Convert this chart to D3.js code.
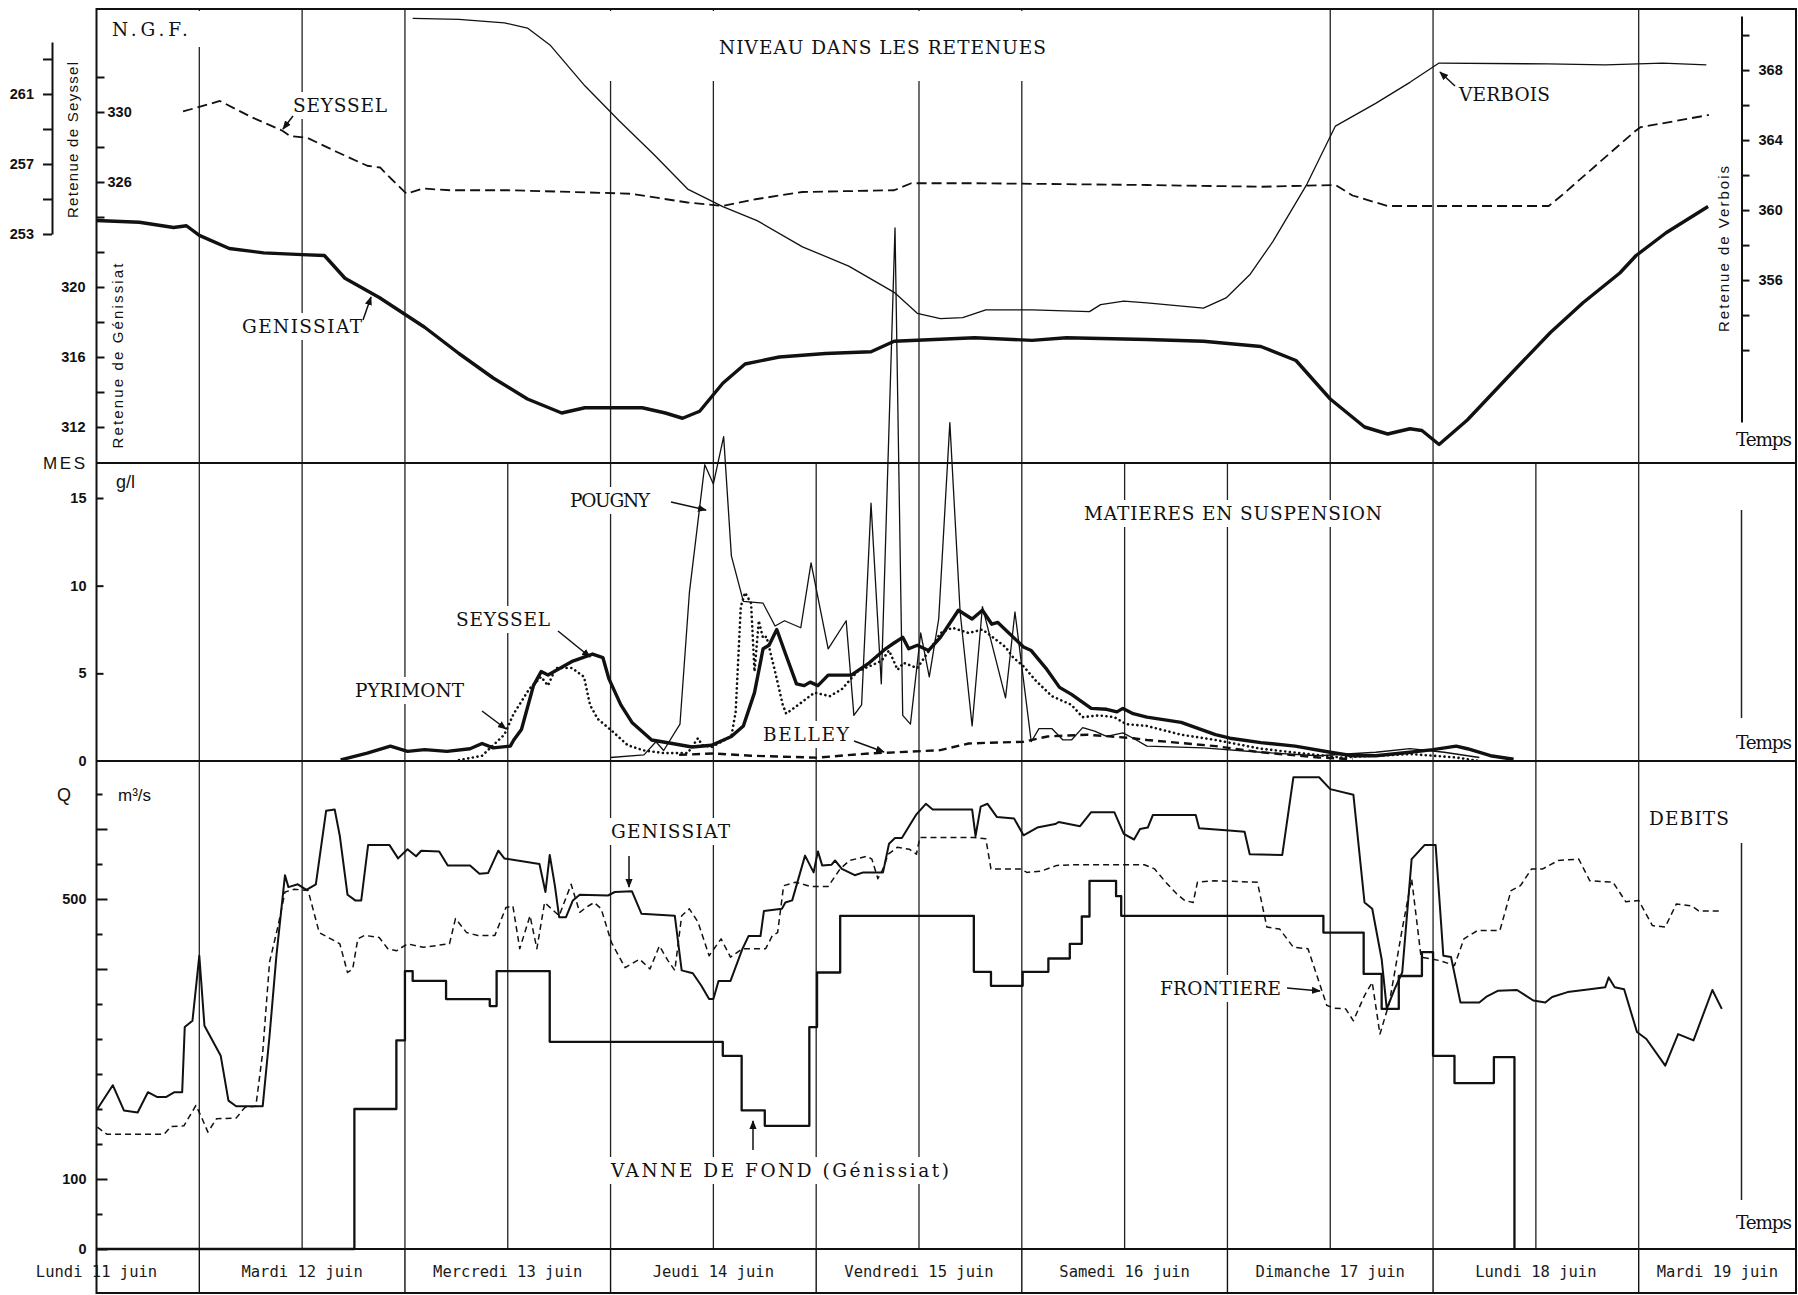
<!DOCTYPE html>
<html><head><meta charset="utf-8">
<script src="https://cdn.jsdelivr.net/npm/d3@7"></script>
<style>body{margin:0;background:#fff}svg{display:block}</style>
</head><body>
<svg id="c" width="1798" height="1295"></svg>
<script>
// ---------- DATA (hours counted from Monday 11 June 00:00) ----------
const dayLabels = ["Lundi 11 juin","Mardi 12 juin","Mercredi 13 juin","Jeudi 14 juin","Vendredi 15 juin","Samedi 16 juin","Dimanche 17 juin","Lundi 18 juin","Mardi 19 juin"];
const panel1Grid = [24,36,48,72,84,108,120,156,168,192];
const panel2Grid = [24,36,48,60,72,84,96,108,120,132,144,156,168,180,192];
const panel3Grid = [24,36,48,60,72,84,96,108,120,132,144,156,168,180,192];

// Levels (m NGF)
const genissiatLevel = [[12,323.8],[17,323.7],[21,323.4],[22.5,323.5],[24,322.95],[27.5,322.2],[31.5,321.95],[36,321.85],[38.6,321.8],[41,320.5],[45,319.4],[50.3,317.7],[54.3,316.2],[58.3,314.8],[62.3,313.6],[66.3,312.8],[69,313.1],[75.7,313.1],[78.4,312.8],[80.4,312.5],[82.4,312.9],[85.1,314.5],[87.7,315.6],[91.7,316.0],[97.1,316.2],[102.4,316.3],[105.1,316.9],[114.5,317.1],[121.2,316.95],[125.2,317.1],[134.6,317.0],[141.2,316.9],[147.9,316.6],[152,315.8],[156,313.6],[160,312.0],[162.7,311.6],[165.3,311.9],[166.7,311.8],[168.7,311.0],[172,312.4],[174.7,313.8],[177.4,315.2],[181.7,317.4],[185.5,319.1],[189.8,320.8],[191.7,321.8],[195.2,323.1],[200.1,324.6]];
const seysselLevel = [[22.1,260.0],[26.4,260.6],[30,259.7],[33.7,258.9],[34.6,258.6],[36.6,258.5],[40,257.7],[43.6,256.9],[45.1,256.8],[46.3,256.2],[48.2,255.3],[50.1,255.6],[53.3,255.5],[60,255.5],[67.7,255.4],[74.3,255.3],[81,254.8],[85.1,254.6],[89.1,255.0],[94.4,255.4],[105.1,255.5],[107.1,255.9],[114.5,255.9],[134.6,255.8],[147.9,255.7],[156.6,255.8],[158.6,255.2],[162.7,254.6],[181.5,254.6],[183,255.2],[191.4,258.8],[192.2,259.1],[200.2,259.8]];
const verboisLevel = [[48.9,370.95],[54.3,370.9],[59.6,370.7],[62.3,370.4],[65,369.4],[69,367.1],[73,365.1],[77,363.2],[81,361.2],[85.1,360.2],[89.1,359.4],[94.4,357.9],[99.8,356.8],[105.1,355.3],[107.8,354.1],[110.5,353.8],[113.1,353.85],[115.8,354.3],[121.2,354.3],[127.9,354.2],[129.2,354.6],[131.9,354.8],[134.6,354.7],[141.2,354.4],[143.9,355.0],[146.6,356.3],[149.3,358.2],[153.3,361.5],[156.6,364.8],[161.3,366.1],[165.3,367.3],[168.7,368.4],[181.4,368.35],[188.1,368.3],[194.8,368.4],[199.9,368.3]];

// Suspended matter (g/l)
const seysselMES = [[40.5,0.06],[43.6,0.45],[46.3,0.85],[48.3,0.55],[50.3,0.65],[52.9,0.55],[55.6,0.7],[57,1.0],[58.3,0.75],[60.3,0.85],[60.7,1.2],[61.6,1.8],[63,4.3],[63.9,5.1],[64.7,4.9],[67.6,5.7],[69.9,6.1],[71.1,5.9],[71.8,4.7],[73.2,3.2],[74.5,2.2],[76.8,1.2],[79.2,1.0],[81.5,0.8],[83.8,0.9],[86.1,1.4],[87.5,2.0],[88.8,3.9],[89.8,6.4],[90.5,6.6],[91.4,7.5],[92.5,6.0],[93.7,4.4],[94.6,4.3],[95.3,4.5],[96.2,4.3],[97.4,4.9],[100.1,4.9],[102.2,5.6],[104.1,6.4],[105,6.7],[106.1,7.05],[106.8,6.4],[107.8,6.6],[109.1,6.3],[110.5,7.05],[112.6,8.6],[114.2,8.1],[115.4,8.6],[116.5,7.8],[117.2,7.9],[120.2,6.5],[121.1,6.3],[122.8,5.3],[124.4,4.2],[125.8,3.8],[128.1,3.0],[129.9,2.95],[131.1,2.8],[131.8,3.0],[133,2.7],[134.6,2.5],[138.6,2.2],[142.6,1.5],[144.3,1.3],[147.9,1.05],[151.9,0.85],[156,0.5],[158.6,0.3],[161.3,0.3],[165.3,0.5],[168,0.65],[170.7,0.85],[172,0.7],[174.7,0.3],[177.4,0.1]];
const pyrimontMES = [[54.3,0.05],[57,0.3],[59.6,1.5],[60.7,2.7],[62.5,4.1],[63.9,4.8],[64.7,4.3],[65.6,5.3],[67.5,5.3],[68.9,4.8],[69.6,3.2],[70.5,2.4],[72.2,1.7],[74,0.9],[75.9,0.6],[78.2,0.45],[81,0.45],[82.2,1.3],[82.7,0.9],[83.8,0.8],[86.1,1.4],[86.6,2.8],[87.2,8.8],[87.7,9.6],[88.4,9.0],[88.8,5.1],[89.3,8.0],[89.8,7.0],[90.2,7.1],[91.2,5.1],[92.1,3.2],[92.5,2.7],[93.9,3.2],[95.8,3.9],[97.6,3.7],[99,4.1],[100.8,5.1],[103.6,5.7],[104.5,6.3],[105.5,5.2],[106.2,5.6],[107.8,5.3],[109.6,6.6],[110.5,7.3],[111.9,7.6],[113.8,7.3],[115.4,7.5],[116.5,7.1],[118.1,6.5],[119,5.9],[120.2,5.4],[121.6,4.6],[123.5,3.7],[125.8,3.2],[127.1,2.5],[129,2.6],[130.8,2.5],[132.2,2.1],[134.6,2.0],[138.6,1.5],[142.6,1.2],[147.9,0.7],[153.3,0.4],[157.3,0.2],[161.3,0.3],[165.3,0.4],[168,0.3],[170.7,0.2],[173.4,0.0]];
const pougnyMES = [[72,0.2],[75.9,0.35],[77.3,1.1],[78.2,0.6],[80.1,2.1],[81.2,9.6],[83,16.9],[84,15.8],[85.2,18.5],[86.1,11.7],[87.5,9.1],[89.8,9.0],[91.2,7.7],[92.3,8.0],[94.2,7.6],[95.4,11.3],[97.4,6.4],[99.5,8.0],[100.4,2.6],[101.3,3.2],[102.4,14.7],[103.6,4.4],[105.2,30.4],[106.1,2.6],[107,2.1],[108.2,7.3],[109.2,4.8],[110.3,8.1],[111.6,19.3],[112.8,8.5],[114.2,2.0],[115.4,8.8],[118.1,3.6],[119.2,8.5],[121.1,1.1],[122,1.85],[123.5,1.85],[124.8,1.2],[125.8,1.2],[127.1,1.9],[128.5,1.7],[129.9,1.4],[131.8,1.6],[133,1.3],[134.6,0.85],[141.2,0.75],[147.9,0.5],[154.6,0.3],[161.3,0.5],[165.3,0.7],[169.3,0.5],[173.4,0.2]];
const belleyMES = [[80,0.35],[84,0.43],[88.4,0.3],[96,0.19],[102.2,0.43],[106.8,0.53],[110.5,0.62],[113.8,1.0],[116.2,1.04],[120.2,1.1],[123,1.4],[127.6,1.5],[133,1.3],[134.6,1.2],[142.6,0.85],[147.9,0.5],[154.6,0.2],[158.6,0.1]];

// Discharges (m3/s)
const genissiatQ = [[12.1,200],[13.9,234],[15.2,198],[16.8,195],[18,224],[19.1,217],[20.1,217],[21.1,224],[22,224],[22.3,317],[23.2,326],[24,419],[24.6,319],[26.5,276],[27.4,212],[28.3,204],[31.4,204],[32.2,305],[33,419],[34,534],[34.4,517],[35.5,521],[36.5,513],[37.6,521],[38.8,626],[39.8,628],[40.4,590],[41.3,506],[42.2,498],[42.9,498],[43.7,577],[46.2,577],[47.2,558],[48.3,571],[49.3,561],[49.9,569],[52,568],[53,548],[55.6,548],[56.7,536],[57.7,537],[58.9,569],[59.6,558],[63.7,550],[64.4,510],[64.9,563],[65.5,519],[66,474],[66.8,474],[67.6,498],[68.4,506],[71.7,505],[72.5,510],[74.5,511],[75.6,479],[79.5,476],[80.3,398],[81.6,394],[82.6,376],[83.5,357],[84,357],[84.6,383],[86,383],[87.4,429],[88.1,447],[89.5,447],[89.9,483],[92,486],[92.4,495],[93.2,498],[94.7,562],[95.7,538],[96.2,568],[96.7,548],[97.8,549],[98.2,555],[99,543],[100.5,534],[101.5,538],[103.8,538],[104.5,579],[105.2,587],[106,587],[107.7,621],[108.8,636],[109.6,628],[114.2,628],[114.6,590],[115.2,632],[116,636],[117.1,617],[119.1,615],[120.2,591],[121.8,602],[123.9,607],[124.3,610],[126.8,604],[128.1,624],[130.8,624],[131.9,593],[133.1,585],[133.8,600],[134.7,602],[135.3,620],[140.3,620],[140.7,601],[144.2,598],[146,596],[146.6,564],[150.4,563],[151.7,674],[154.7,674],[156,657],[158.7,649],[160,495],[160.9,486],[162,414],[162.6,343],[163.5,371],[164.4,395],[165.5,557],[167,577],[168.3,577],[169.2,419],[170.1,417],[171.2,352],[173.4,352],[174.3,361],[175.6,369],[177.8,370],[179.7,355],[181.1,352],[181.9,360],[183.7,367],[186.3,371],[188.1,374],[188.5,388],[189.2,374],[190.3,371],[191.8,310],[192.9,300],[195.1,262],[196.6,307],[198.4,298],[200.6,370],[201.7,343]];
const frontiereQ = [[12.1,174],[13.2,164],[16.1,164],[19.9,164],[20.7,175],[22.2,176],[23.6,205],[24.2,190],[25,167],[26,186],[28.3,187],[29.3,202],[30.6,204],[31.4,281],[32.2,410],[33.2,462],[34,510],[35.1,514],[36.7,512],[38,452],[40.4,436],[41.3,395],[41.9,400],[42.5,443],[43.3,448],[45,445],[46,429],[47,426],[48.3,436],[50.1,431],[53.2,436],[53.9,472],[55.2,452],[56.5,448],[58.5,448],[59.8,488],[60.6,490],[61.4,429],[62.6,476],[63.4,429],[64.3,495],[66,476],[67.4,521],[68.4,481],[69.4,490],[70.1,495],[70.9,486],[72.1,438],[73.7,402],[75.4,414],[76.6,400],[77.7,433],[78.7,412],[79.5,398],[80.3,476],[81.2,486],[82.2,467],[83.5,419],[84.9,443],[86,417],[87.4,429],[90.1,429],[90.9,448],[91.5,452],[92.2,519],[93.6,524],[95.3,518],[97.4,518],[98.8,543],[99.9,555],[101.9,561],[102.5,557],[103.2,529],[103.8,543],[104.4,564],[105.5,574],[106.9,571],[107.7,564],[108.1,588],[114.4,588],[115.8,586],[116.4,543],[119.8,543],[120.6,538],[122.3,540],[124.1,548],[126,549],[134.3,549],[135.5,543],[136.8,524],[138.1,507],[139,498],[140,495],[140.5,524],[142.5,526],[147.5,524],[148.6,460],[150.1,457],[151.7,431],[153.4,429],[155.6,348],[156.5,344],[157.8,343],[158.7,326],[160,362],[160.9,381],[161.8,307],[162.9,352],[164.4,457],[165.5,529],[166.6,417],[168.8,412],[170.5,405],[171.6,443],[173.2,455],[175.8,455],[177.1,512],[178.2,519],[179.5,543],[180.8,543],[182.6,555],[185,557],[186.3,526],[189,524],[190.5,496],[192,498],[193.6,462],[195.1,460],[196.4,493],[198.2,490],[199,483],[201.7,483]];
const vanneQ = [[12,0],[42.1,200],[47,298],[48,397],[48.9,383],[52.8,357],[57.9,347],[58.7,397],[64.9,296],[85.1,276],[87.3,198],[90,176],[95.2,317],[96.1,395],[98.8,476],[114.4,396],[116.4,376],[120.1,396],[123.1,415],[125.6,436],[127,475],[127.9,526],[131,504],[131.6,476],[155.2,452],[159.9,393],[162,343],[164,390],[166.7,424],[168,276],[170.5,237],[175.1,274],[177.5,0]];

// Tick values
const genTicks = [312,314,316,318,320,322,324,326,328,330,332];
const genLabelsIn = [330,326], genLabelsOut = [320,316,312];
const seyTicks = [253,255,257,259,261,263], seyLabels = [253,257,261];
const verTicks = [352,354,356,358,360,362,364,366,368,370], verLabels = [356,360,364,368];
const mesTicks = [0,5,10,15];
const qTicksLong = [0,100,400,500,600], qTicksShort = [50,150,200,250,300,350,450,550,650], qLabels = [0,100,500];

// ---------- LAYOUT ----------
const L=96.5, R=1796, T=9, B1=463, B2=761, B3=1249, B4=1293;
const INK="#111";
const svg=d3.select("#c");
const x=d3.scaleLinear().domain([12,204]).range([L,1741.5]);
const genY=d3.scaleLinear().domain([312,330]).range([427,112]);
const seyY=d3.scaleLinear().domain([253,263.97]).range([234,42]);
const verY=d3.scaleLinear().domain([347.89,371.09]).range([422,16]);
const mesY=d3.scaleLinear().domain([0,15]).range([B2,498]);
const qY=d3.scaleLinear().domain([0,500]).range([B3,899]);

svg.append("defs").append("marker").attr("id","ah").attr("viewBox","0 0 10 10")
  .attr("refX",9).attr("refY",5).attr("markerWidth",6).attr("markerHeight",6).attr("orient","auto")
  .append("path").attr("d","M0,1 L10,5 L0,9 z").attr("fill",INK);

const gGrid=svg.append("g"), gBg=svg.append("g"), gCurve=svg.append("g"), gText=svg.append("g"), gAxis=svg.append("g");

function grid(hours,y0,y1){
  gGrid.selectAll(null).data(hours).join("line")
    .attr("x1",d=>x(d)).attr("x2",d=>x(d)).attr("y1",y0).attr("y2",y1)
    .attr("stroke","#222").attr("stroke-width",1.3);
}
grid(panel1Grid,T,B1); grid(panel2Grid,B1,B2); grid(panel3Grid,B2,B3);
[[510,718],[843,1200]].forEach(s=>gGrid.append("line").attr("x1",x(204)).attr("x2",x(204)).attr("y1",s[0]).attr("y2",s[1]).attr("stroke","#222").attr("stroke-width",1.5));
gBg.append("rect").attr("x",x(66)).attr("y",T+2).attr("width",x(126)-x(66)).attr("height",70).attr("fill","#fff");
gBg.append("rect").attr("x",x(24)-3).attr("y",T+2).attr("width",6).attr("height",36).attr("fill","#fff");

// frame
const frame=svg.append("g").attr("stroke",INK).attr("stroke-width",2).attr("fill","none");
frame.append("path").attr("d",`M${L},${T}H${R}V${B4}H${L}Z`);
[B1,B2,B3].forEach(y=>frame.append("line").attr("x1",L).attr("x2",R).attr("y1",y).attr("y2",y));
d3.range(24,193,24).forEach(h=>frame.append("line").attr("x1",x(h)).attr("x2",x(h)).attr("y1",B3).attr("y2",B4).attr("stroke-width",1.4));
dayLabels.forEach((t,i)=>{
  const a=Math.max(x(24*i),L-200), b=Math.min(x(24*i+24),R);
  gText.append("text").attr("x",(a+b)/2).attr("y",1277).attr("text-anchor","middle")
    .attr("font-family","DejaVu Sans Mono").attr("font-size",15.5).attr("fill","#1a1a1a").text(t);
});

function tw(t,x0,base,len,size){
  const el=gText.append("text").attr("x",x0).attr("y",base).attr("textLength",len).attr("lengthAdjust","spacing")
    .attr("font-family","DejaVu Serif").attr("font-size",size||18.5).attr("fill",INK).text(t);
  const bb=el.node().getBBox();
  gBg.append("rect").attr("x",bb.x-4).attr("y",bb.y-3).attr("width",bb.width+8).attr("height",bb.height+6).attr("fill","#fff");
}
function arrow(x1,y1,x2,y2){
  gText.append("line").attr("x1",x1).attr("y1",y1).attr("x2",x2).attr("y2",y2)
    .attr("stroke",INK).attr("stroke-width",1.5).attr("marker-end","url(#ah)");
}
tw("N.G.F.",112,36,76);
tw("NIVEAU DANS LES RETENUES",719,54,327);
tw("SEYSSEL",293,112,94); arrow(293,116,283,129);
tw("GENISSIAT",242,333,120); arrow(363,320,371,297);
tw("VERBOIS",1459,101,91); arrow(1455,86,1440,72);
tw("POUGNY",570,507,80); arrow(671,502,706,510);
tw("MATIERES EN SUSPENSION",1084,520,298);
tw("SEYSSEL",456,626,94); arrow(558,631,590,657);
tw("PYRIMONT",355,697,109); arrow(482,711,506,729);
tw("BELLEY",763,741,86); arrow(854,741,884,752);
tw("GENISSIAT",611,838,119); arrow(629,856,629,887);
tw("VANNE DE FOND (Génissiat)",611,1177,338); arrow(753,1150,753,1121);
tw("FRONTIERE",1160,995,121); arrow(1287,988,1320,991);
tw("DEBITS",1649,825,80);
[446,749,1229].forEach(b=>tw("Temps",1736,b,56,18.5));

function curve(data,sc,w,dash,step){
  const ln=d3.line().x(d=>x(d[0])).y(d=>sc(d[1]));
  if(step) ln.curve(d3.curveStepAfter);
  const p=gCurve.append("path").datum(data).attr("d",ln).attr("fill","none").attr("stroke",INK)
    .attr("stroke-width",w).attr("stroke-linejoin","round");
  if(dash){p.attr("stroke-dasharray",dash);}
  return p;
}
curve(genissiatLevel,genY,3.4);
curve(seysselLevel,seyY,1.8,"10,5");
curve(verboisLevel,verY,1.3);
curve(belleyMES,mesY,2.4,"8,5");
curve(pougnyMES,mesY,1.3);
curve(pyrimontMES,mesY,2.6,"0.1,4.6").attr("stroke-linecap","round");
curve(seysselMES,mesY,3.4);
curve(vanneQ,qY,2.3,null,true);
curve(frontiereQ,qY,1.5,"6,4");
curve(genissiatQ,qY,2.0);

function styleAxis(g,size,weight){
  g.attr("font-family","Liberation Sans").attr("font-size",size||14.5).attr("font-weight",weight||"bold");
  g.selectAll("text").attr("fill",INK);
  g.selectAll("line").attr("stroke",INK).attr("stroke-width",2);
  g.selectAll(".domain").attr("stroke",INK).attr("stroke-width",2);
}
const aS=gAxis.append("g").attr("transform","translate(52,0)")
  .call(d3.axisLeft(seyY).tickValues(seyTicks).tickSize(9).tickSizeOuter(0).tickPadding(9)
    .tickFormat(d=>seyLabels.includes(d)?d:""));
styleAxis(aS);
const aG=gAxis.append("g").attr("transform",`translate(${L},0)`)
  .call(d3.axisRight(genY).tickValues(genTicks).tickSize(8).tickPadding(3)
    .tickFormat(d=>genLabelsIn.includes(d)?d:""));
aG.select(".domain").remove(); styleAxis(aG);
const aG2=gAxis.append("g").attr("transform",`translate(${L},0)`)
  .call(d3.axisLeft(genY).tickValues(genLabelsOut).tickSize(0).tickPadding(11));
aG2.select(".domain").remove(); styleAxis(aG2);
const aV=gAxis.append("g").attr("transform",`translate(${x(204)},0)`)
  .call(d3.axisRight(verY).tickValues(verTicks).tickSize(8).tickSizeOuter(0).tickPadding(9)
    .tickFormat(d=>verLabels.includes(d)?d:""));
styleAxis(aV);
const aM=gAxis.append("g").attr("transform",`translate(${L},0)`)
  .call(d3.axisRight(mesY).tickValues(mesTicks.slice(1)).tickSize(7).tickFormat(""));
aM.select(".domain").remove(); styleAxis(aM);
const aM2=gAxis.append("g").attr("transform",`translate(${L},0)`)
  .call(d3.axisLeft(mesY).tickValues(mesTicks).tickSize(0).tickPadding(10));
aM2.select(".domain").remove(); styleAxis(aM2);
const aQ=gAxis.append("g").attr("transform",`translate(${L},0)`)
  .call(d3.axisRight(qY).tickValues(qTicksLong).tickSize(11).tickFormat(""));
aQ.select(".domain").remove(); styleAxis(aQ);
const aQ2=gAxis.append("g").attr("transform",`translate(${L},0)`)
  .call(d3.axisRight(qY).tickValues(qTicksShort).tickSize(6).tickFormat(""));
aQ2.select(".domain").remove(); styleAxis(aQ2);
const aQ3=gAxis.append("g").attr("transform",`translate(${L},0)`)
  .call(d3.axisLeft(qY).tickValues(qLabels).tickSize(0).tickPadding(10));
aQ3.select(".domain").remove(); styleAxis(aQ3);

function sans(t,x0,y0,size,len,rot,anchor){
  const el=gText.append("text").attr("font-family","Liberation Sans").attr("font-size",size).attr("fill",INK)
    .attr("text-anchor",anchor||"start").text(t);
  if(len) el.attr("textLength",len).attr("lengthAdjust","spacing");
  if(rot) el.attr("transform",`translate(${x0},${y0}) rotate(-90)`); else el.attr("x",x0).attr("y",y0);
  return el;
}
sans("Retenue de Seyssel",78,140,15,156,true,"middle");
sans("Retenue de Génissiat",123,356,15,185,true,"middle");
sans("Retenue de Verbois",1729,249,15,166,true,"middle");
sans("MES",43,469,17,42);
sans("g/l",116,488,18);
sans("Q",57,801,18);
sans("m³/s",118,801,17);
</script>
</body></html>
